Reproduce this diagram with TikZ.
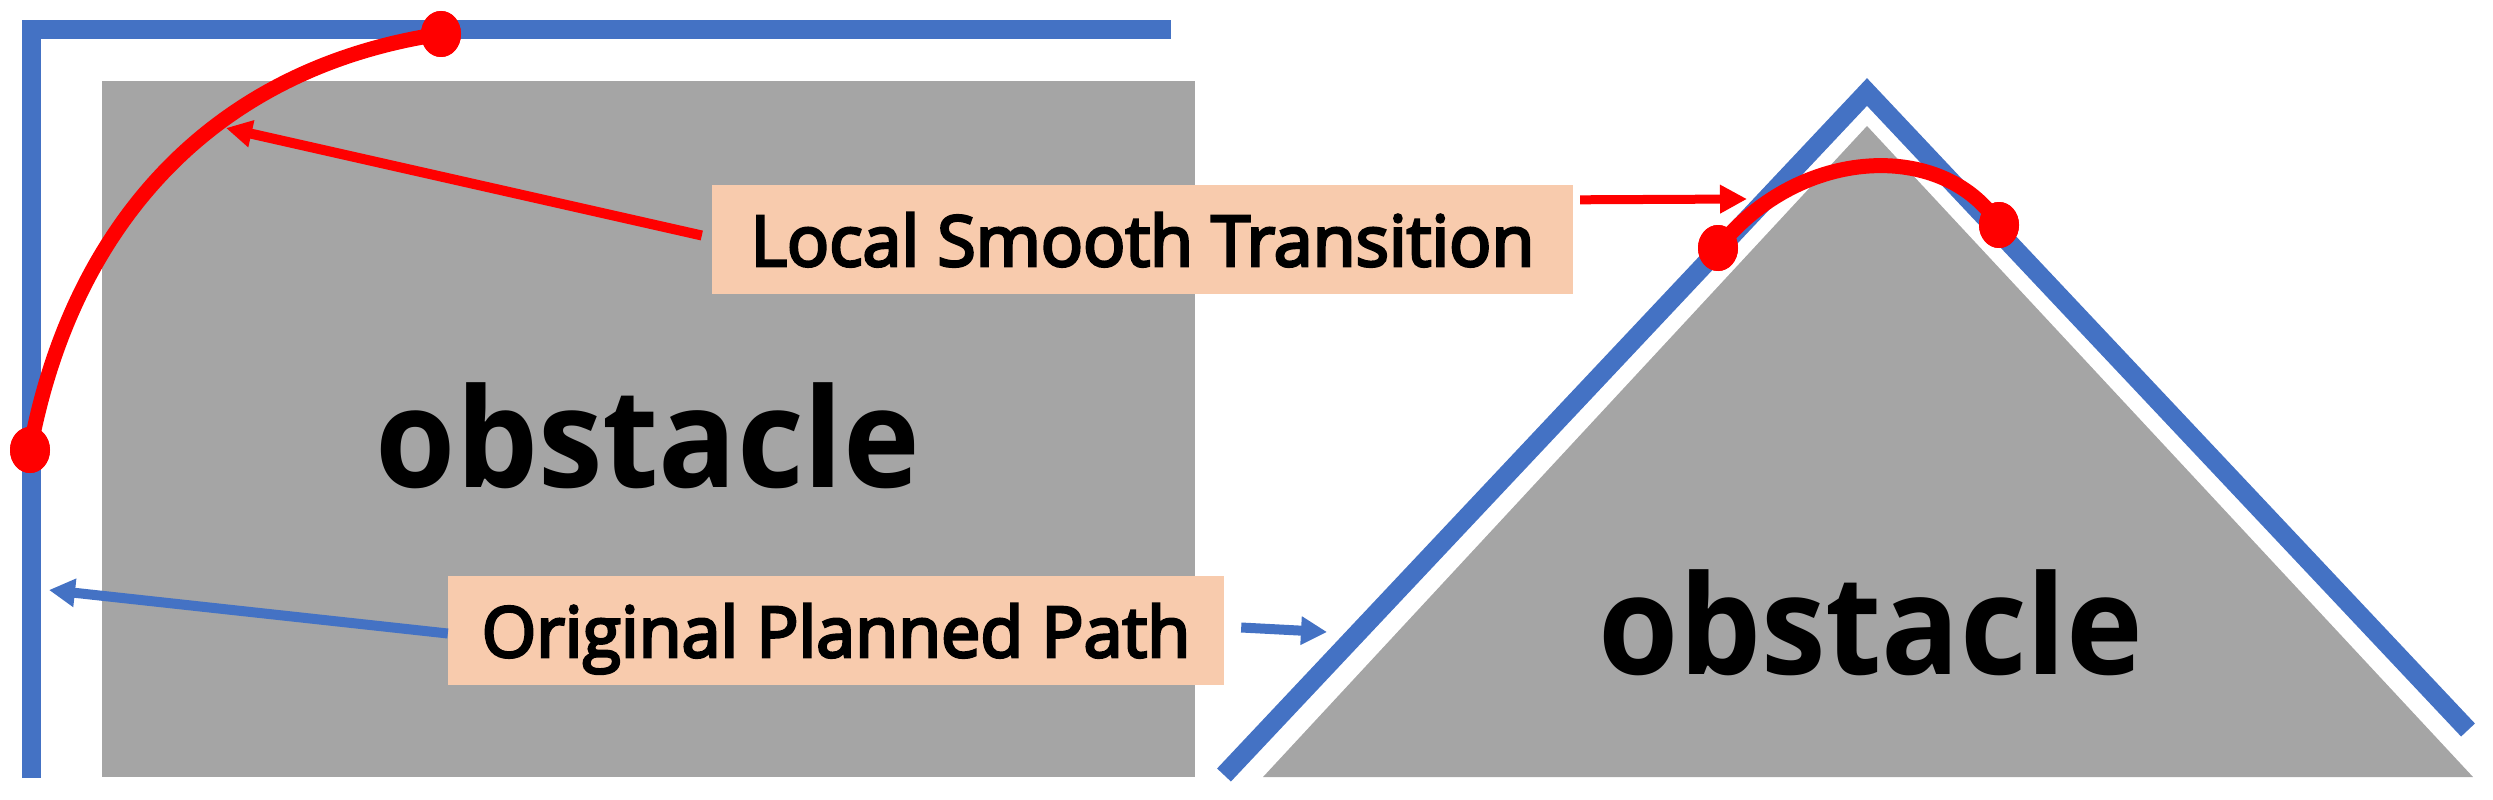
\documentclass[tikz,border=0pt]{standalone}
\usepackage{fontspec}
\setmainfont{Open Sans}
\newfontfamily\labelfont{Open Sans}[FakeBold=4]
\usepackage{graphicx}
\usetikzlibrary{arrows.meta,calc,shapes.geometric}
\definecolor{pathblue}{HTML}{4472C4}
\definecolor{obsgray}{HTML}{A5A5A5}
\definecolor{labelfill}{HTML}{F8CBAD}
\definecolor{smoothred}{HTML}{FF0000}
\tikzset{
  obstacle/.style={fill=obsgray},
  planpath/.style={draw=pathblue, line width=19pt, line join=miter, line cap=butt},
  smoothpath/.style={draw=smoothred, line width=15pt, line cap=round},
  enddot/.style={shape=ellipse, fill=smoothred, minimum width=40pt, minimum height=46pt, inner sep=0pt},
  obstext/.style={font=\bfseries\fontsize{138}{140}\selectfont, text=black, inner sep=0pt},
  labelbox/.style={fill=labelfill, font=\labelfont\fontsize{70}{80}\selectfont, text=black,
    minimum height=109pt, inner sep=0pt, text height=53pt, text depth=0pt},
  redarrow/.style={draw=smoothred, line width=10pt, -{Triangle[length=26pt,width=26pt]}},
  redarrowb/.style={draw=smoothred, line width=9pt, -{Triangle[length=27pt,width=27pt]}},
  bluearrow/.style={draw=pathblue, line width=10pt, -{Triangle[length=26pt,width=27pt]}},
}
\begin{document}
\begin{tikzpicture}[x=1pt,y=-1pt]
\useasboundingbox (0,0) rectangle (2493,800);
% obstacles
\fill[obstacle] (102,81) rectangle (1195,777);
\fill[obstacle] (1263,777) -- (1867,126) -- (2473,777) -- cycle;
% original planned paths
\draw[planpath] (31.5,778) -- (31.5,30) -- (1171,30);
\draw[planpath] (1224,775) -- (1867,92) -- (2468,730);
% obstacle labels
\node[obstext, anchor=base] (obsL) at (648,487) {\scalebox{0.94}[1]{obstacle}};
\node[obstext, anchor=base] (obsR) at (1871,674) {\scalebox{0.94}[1]{obstacle}};
% smooth transitions
\node[enddot] (a1) at (30,450) {};
\node[enddot] (a2) at (441,34) {};
\draw[smoothpath] (a1.center) .. controls (71.6,226) and (211,68.5) .. (a2.center);
\node[enddot] (b1) at (1718,248) {};
\node[enddot] (b2) at (1999,225) {};
\draw[smoothpath] (b1.center) .. controls (1800,145) and (1945,140) .. (b2.center);
\node[enddot] at (a1) {};
\node[enddot] at (a2) {};
\node[enddot] at (b1) {};
\node[enddot] at (b2) {};
% labels
\node[labelbox, minimum width=861pt] (local) at (1142.5,239.5) {Local Smooth Transition};
\node[labelbox, minimum width=776pt] (orig) at (836,630.5) {Original Planned Path};
% arrow targets
\coordinate (c1) at (226,128);
\coordinate (c2) at (1747,199);
\coordinate (d1) at (49,590);
\coordinate (d2) at (1327,632);
% connectors
\draw[redarrow] ([shift={(-10pt,4pt)}]local.west) -- (c1);
\draw[redarrowb] ([shift={(7pt,-15pt)}]local.north east) -- (c2);
\draw[bluearrow] ([shift={(0pt,-3pt)}]orig.west) -- (d1);
\draw[bluearrow] ([shift={(17pt,3pt)}]orig.east) -- (d2);
\end{tikzpicture}
\end{document}
